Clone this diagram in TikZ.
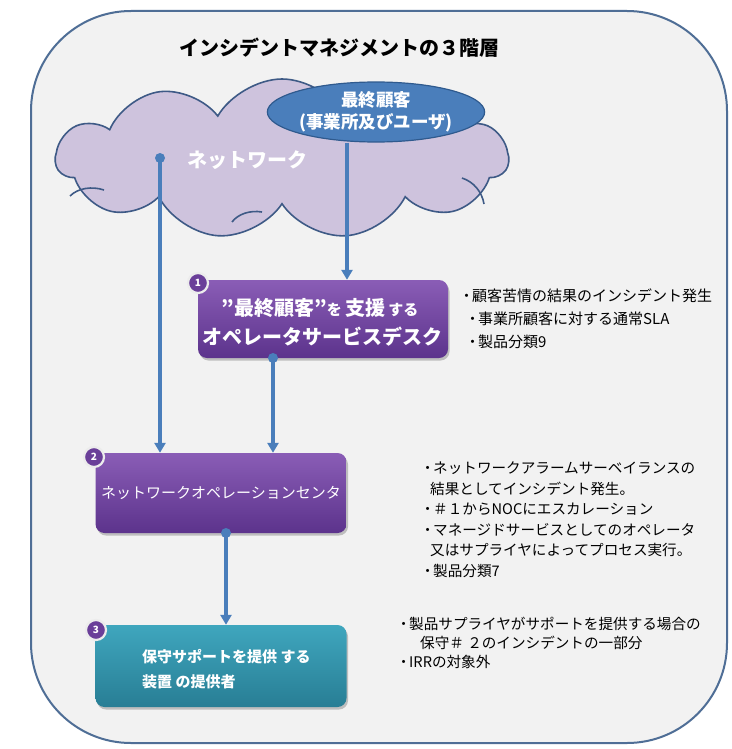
\documentclass[tikz,border=0pt]{standalone}
\usepackage{fontspec}
\setmainfont{Noto Sans CJK JP}
\usetikzlibrary{shapes.symbols,shapes.geometric,arrows.meta,shadows}
\definecolor{frameblue}{HTML}{4F6E96}
\definecolor{bggray}{HTML}{F2F2F2}
\definecolor{cloudfill}{HTML}{CEC3DD}
\definecolor{cloudedge}{HTML}{3E5A86}
\definecolor{ellfill}{HTML}{4A7EBB}
\definecolor{ellEdge}{HTML}{2F5A8E}
\definecolor{conn}{HTML}{4A7EBB}
\definecolor{purtop}{HTML}{8A5DB6}
\definecolor{purbot}{HTML}{5C338C}
\definecolor{tealtop}{HTML}{3FA6BE}
\definecolor{tealbot}{HTML}{287E95}
\definecolor{badgepur}{HTML}{6A3F99}
\newcommand{\bul}{\makebox[11pt][c]{・}}
\begin{document}
\begin{tikzpicture}[x=1pt,y=-1pt,
  connline/.style={draw=conn,line width=3.4pt,-{Triangle[length=10pt,width=11pt]}},
  tierbox/.style={rounded corners=9pt,draw=none,drop shadow={shadow xshift=1.5pt,shadow yshift=-2.5pt,opacity=0.45}},
  purbox/.style={tierbox,top color=purtop,bottom color=purbot},
  tealbox/.style={tierbox,top color=tealtop,bottom color=tealbot},
  badge/.style={circle,fill=badgepur,draw=white!85!gray,line width=2.2pt,minimum size=20pt,inner sep=0pt,text=white,font=\bfseries\fontsize{10}{10}\selectfont},
  note/.style={anchor=north west,align=left,inner sep=0pt},
  curl/.style={draw=cloudedge,line width=1.6pt}
]
\useasboundingbox (0,0) rectangle (731,749);
\fill[white] (0,0) rectangle (731,749);
% frame
\draw[frameblue,line width=2pt,fill=bggray,rounded corners=100pt] (31,11) rectangle (727,743);
\node[font=\bfseries\fontsize{20}{20}\selectfont] (title) at (339,48) {インシデントマネジメントの３階層};
% cloud
\node[cloud,draw=cloudedge,fill=cloudfill,line width=1.6pt,cloud puffs=11,cloud puff arc=120,aspect=2.8,minimum width=452pt,minimum height=160pt,inner sep=0pt] (cloud) at (282,159) {};
\draw[curl] (70,196) .. controls (78,188) and (92,186) .. (104,190);
\draw[curl] (462,178) .. controls (474,182) and (482,192) .. (484,204);
\draw[curl] (232,222) .. controls (238,214) and (250,210) .. (262,212);
\node[text=white,font=\bfseries\fontsize{20}{20}\selectfont] (netlabel) at (247,160) {ネットワーク};
\node[ellipse,fill=ellfill,draw=ellEdge,line width=1.2pt,minimum width=207pt,minimum height=60pt,inner sep=0pt,align=center,text=white,font=\bfseries\fontsize{17.5}{22}\selectfont] (cust) at (376,112) {最終顧客\\(事業所及びユーザ)};
% boxes
\node[purbox,minimum width=250pt,minimum height=78pt] (box1) at (323,319) {};
\node[text=white,font=\bfseries\fontsize{20}{20}\selectfont,inner sep=0pt] (box1a) at (320,308) {”最終顧客”{\fontsize{15}{15}\selectfont を}\,支援\,{\fontsize{15}{15}\selectfont する}};
\node[text=white,font=\bfseries\fontsize{20}{20}\selectfont,inner sep=0pt] (box1b) at (322,337) {オペレータサービスデスク};
\node[purbox,minimum width=251pt,minimum height=80pt,text=white,font=\fontsize{15}{15}\selectfont] (box2) at (221,493) {ネットワークオペレーションセンタ};
\node[tealbox,minimum width=251pt,minimum height=82pt] (box3) at (221,666) {};
\node[anchor=west,text=white,font=\bfseries\fontsize{15}{15}\selectfont,inner sep=0pt] (box3a) at (142,657) {保守サポートを提供 する};
\node[anchor=west,text=white,font=\bfseries\fontsize{15}{15}\selectfont,inner sep=0pt] (box3b) at (142,682) {装置 の提供者};
% badges
\node[badge] (b1) at (198,283) {1};
\node[badge] (b2) at (94,457) {2};
\node[badge] (b3) at (96,630) {3};
% connectors
\coordinate (netdot) at (160,158);
\coordinate (d1) at (273,358);
\coordinate (d2) at (226,533);
\fill[conn] (netdot) circle (5pt);
\fill[conn] (d1) circle (5pt);
\fill[conn] (d2) circle (5pt);
\draw[connline] (cust.south -| 347,0) -- (box1.north -| 347,0);
\draw[connline] (netdot) -- (box2.north -| netdot);
\draw[connline] (d1) -- (box2.north -| d1);
\draw[connline] (d2) -- (box3.north -| d2);
% notes
\node[note,font=\fontsize{15}{23}\selectfont] (n1) at (461,289) {\bul 顧客苦情の結果のインシデント発生\\\hspace{6pt}\bul 事業所顧客に対する通常SLA\\\hspace{6pt}\bul 製品分類9};
\node[note,font=\fontsize{14.6}{20.5}\selectfont] (n2) at (422,462) {\bul ネットワークアラームサーベイランスの\\\hspace{8pt}結果としてインシデント発生。\\\bul ＃１からNOCにエスカレーション\\\bul マネージドサービスとしてのオペレータ\\\hspace{8pt}又はサプライヤによってプロセス実行。\\\bul 製品分類7};
\node[note,font=\fontsize{14.6}{19}\selectfont] (n3) at (398,617) {\bul 製品サプライヤがサポートを提供する場合の\\\hspace{22pt}保守＃ ２のインシデントの一部分\\\bul IRRの対象外};
\end{tikzpicture}
\end{document}
